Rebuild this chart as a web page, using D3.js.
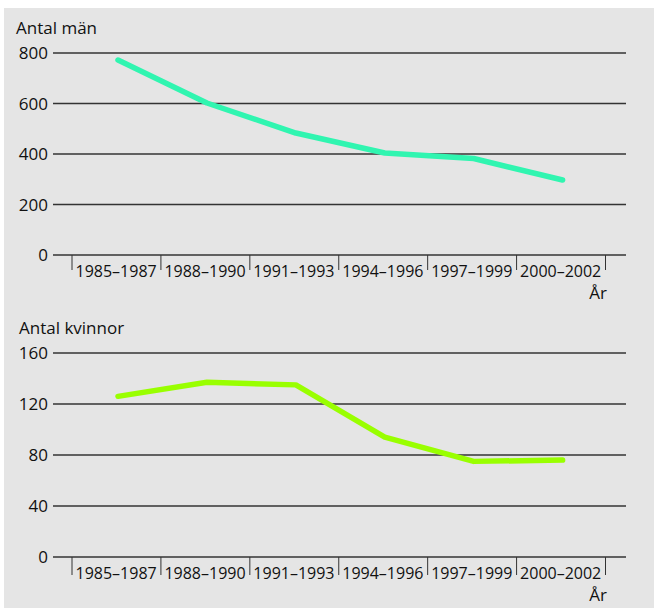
<!DOCTYPE html>
<html>
<head>
<meta charset="utf-8">
<script src="https://cdn.jsdelivr.net/npm/d3@7"></script>
<style>
  body { margin: 0; background: #fff; }
  svg { display: block; }
  text { font-family: "Open Sans", sans-serif; fill: #111; }
</style>
</head>
<body>
<div id="chart"></div>
<script>
var periods = ["1985–1987", "1988–1990", "1991–1993", "1994–1996", "1997–1999", "2000–2002"];
var men = [772, 602, 483, 404, 382, 297];
var women = [126, 137, 135, 94, 75, 76];
var menTicks = [0, 200, 400, 600, 800];
var womenTicks = [0, 40, 80, 120, 160];

var width = 654,
    height = 608;

var svg = d3.select("#chart").append("svg")
    .attr("width", width)
    .attr("height", height);

svg.append("rect")
    .attr("x", 4).attr("y", 8)
    .attr("width", width - 4).attr("height", height - 8)
    .attr("fill", "#e5e5e5");

var x = d3.scaleBand()
    .domain(periods)
    .range([72, 605.5]);

function drawPanel(opts) {
  var y = d3.scaleLinear()
      .domain([0, opts.max])
      .range([opts.bottom, opts.top]);

  var g = svg.append("g");

  // gridlines
  g.selectAll(".grid")
      .data(opts.ticks)
      .enter().append("line")
      .attr("x1", 53).attr("x2", 626)
      .attr("y1", function(d) { return y(d); })
      .attr("y2", function(d) { return y(d); })
      .attr("stroke", "#333")
      .attr("stroke-width", 1.6);

  g.selectAll(".ylab")
      .data(opts.ticks)
      .enter().append("text")
      .attr("x", 48)
      .attr("y", function(d) { return y(d); })
      .attr("dy", "0.36em")
      .attr("text-anchor", "end")
      .style("font-size", "17px")
      .text(function(d) { return d; });

  // x ticks at band edges
  var edges = periods.map(function(p) { return x(p); }).concat([x.range()[1]]);
  g.selectAll(".xtick")
      .data(edges)
      .enter().append("line")
      .attr("x1", function(d) { return d; })
      .attr("x2", function(d) { return d; })
      .attr("y1", opts.bottom)
      .attr("y2", opts.bottom + opts.tickLen)
      .attr("stroke", "#333")
      .attr("stroke-width", 1);

  g.selectAll(".xlab")
      .data(periods)
      .enter().append("text")
      .attr("x", function(d) { return x(d) + 3.5; })
      .attr("y", opts.bottom + 22)
      .style("font-size", "16px")
      .text(function(d) { return d; });

  g.append("text")
      .attr("x", 607)
      .attr("y", opts.bottom + 44)
      .attr("text-anchor", "end")
      .style("font-size", "17px")
      .text("År");

  g.append("text")
      .attr("x", opts.titleX)
      .attr("y", opts.top - 19)
      .style("font-size", "17px")
      .text(opts.title);

  var line = d3.line()
      .x(function(d, i) { return x(periods[i]) + 46; })
      .y(function(d) { return y(d); });

  g.append("path")
      .datum(opts.values)
      .attr("d", line)
      .attr("fill", "none")
      .attr("stroke", opts.color)
      .attr("stroke-width", 5.5)
      .attr("stroke-linecap", "round")
      .attr("stroke-linejoin", "round");
}

drawPanel({ values: men, ticks: menTicks, max: 800, top: 53, bottom: 255,
            tickLen: 15, title: "Antal män", titleX: 16, color: "#30f5b0" });
drawPanel({ values: women, ticks: womenTicks, max: 160, top: 353, bottom: 557,
            tickLen: 18, title: "Antal kvinnor", titleX: 19, color: "#99ff00" });
</script>
</body>
</html>
